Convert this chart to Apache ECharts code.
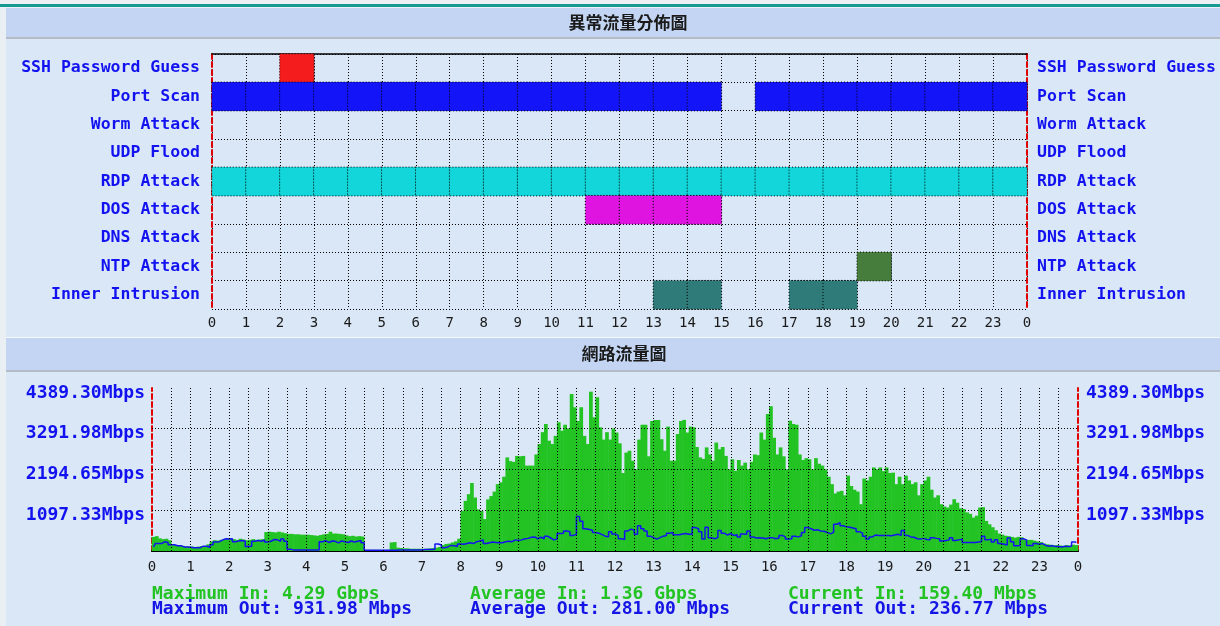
<!DOCTYPE html>
<html>
<head>
<meta charset="utf-8">
<script src="https://cdn.jsdelivr.net/npm/echarts@6/dist/echarts.min.js"></script>
<style>
  html, body { margin: 0; padding: 0; background: #dae7f6; }
  #chart { width: 1220px; height: 626px; }
</style>
</head>
<body>
<div id="chart"></div>
<script>
// 小时刻度
const hourLabels = ['0', '1', '2', '3', '4', '5', '6', '7', '8', '9', '10', '11',
  '12', '13', '14', '15', '16', '17', '18', '19', '20', '21', '22', '23', '0'];

// 异常流量分布
const attackTypes = ['SSH Password Guess', 'Port Scan', 'Worm Attack', 'UDP Flood',
  'RDP Attack', 'DOS Attack', 'DNS Attack', 'NTP Attack', 'Inner Intrusion'];
const attackColors = ['#f41c1c', '#1414f8', '#1414f8', '#1414f8', '#12d6da',
  '#e014e0', '#1414f8', '#467c3c', '#2f7b79'];
const sshHours = [2];
const portScanHours = [0, 1, 2, 3, 4, 5, 6, 7, 8, 9, 10, 11, 12, 13, 14, 16, 17, 18, 19, 20, 21, 22, 23];
const wormHours = [];
const udpHours = [];
const rdpHours = [0, 1, 2, 3, 4, 5, 6, 7, 8, 9, 10, 11, 12, 13, 14, 15, 16, 17, 18, 19, 20, 21, 22, 23];
const dosHours = [11, 12, 13, 14];
const dnsHours = [];
const ntpHours = [19];
const innerHours = [13, 14, 17, 18];
const attackHours = [sshHours, portScanHours, wormHours, udpHours, rdpHours, dosHours, dnsHours, ntpHours, innerHours];

// 网络流量 (Mbps), 每 5 分钟一个点, 每行一小时
const trafficIn = [
  380, 400, 340, 320, 330, 290, 180, 160, 150, 140, 120, 120,
  120, 110, 120, 130, 110, 180, 260, 290, 280, 300, 310, 330,
  330, 320, 300, 330, 310, 290, 300, 320, 300, 310, 320, 510,
  520, 510, 500, 520, 500, 480, 460, 460, 450, 450, 440, 440,
  440, 430, 420, 410, 430, 450, 460, 520, 470, 470, 460, 450,
  420, 400, 410, 390, 400, 390, 30, 30, 30, 30, 30, 30,
  30, 30, 230, 240, 90, 80, 70, 70, 60, 60, 60, 60,
  60, 60, 70, 80, 90, 110, 160, 190, 200, 230, 260, 330,
  1080, 1350, 1530, 1830, 1440, 1120, 1080, 860, 1390, 1480, 1600, 1800,
  1850, 2000, 2520, 2420, 2400, 2560, 2550, 2560, 2300, 2300, 2300, 2600,
  2880, 3200, 3420, 2970, 2880, 3100, 3470, 3240, 3400, 3300, 4230, 3870,
  3500, 3870, 3100, 2880, 4290, 3600, 4140, 3330, 3000, 3200, 3000, 3300,
  3190, 2900, 2100, 2650, 2700, 2430, 2200, 3000, 3400, 3400, 2550, 3500,
  3530, 3530, 3010, 2700, 3350, 2430, 2430, 3150, 3500, 3530, 3190, 3350,
  3330, 2800, 2520, 2480, 2790, 2600, 2430, 2920, 2740, 2800, 2560, 2200,
  2470, 2160, 2450, 2300, 2380, 2200, 2400, 2600, 2580, 3190, 3000, 3690,
  3900, 3050, 2600, 2790, 2550, 2200, 3510, 3420, 3400, 2600, 2450, 2500,
  2470, 2200, 2500, 2350, 2300, 2200, 2000, 1800, 1550, 1600, 1620, 1500,
  2030, 1750, 1650, 1600, 1260, 1950, 1900, 2000, 2250, 2200, 2250, 2150,
  2250, 2100, 2110, 1800, 2000, 1800, 2030, 1900, 1800, 1850, 1500, 1800,
  1900, 2000, 1650, 1440, 1500, 1260, 1200, 1170, 1250, 1395, 1300, 1150,
  1130, 1040, 1000, 900, 950, 1170, 1180, 810, 720, 640, 560, 470,
  440, 410, 400, 380, 360, 380, 370, 310, 300, 300, 280, 260,
  240, 200, 180, 170, 150, 160, 150, 140, 160, 150, 170, 159.4
];
const trafficOut = [
  110, 200, 200, 250, 230, 170, 170, 140, 140, 110, 110, 100,
  90, 90, 90, 130, 130, 100, 170, 240, 250, 300, 330, 320,
  330, 250, 270, 280, 270, 120, 130, 260, 280, 260, 300, 240,
  260, 310, 300, 260, 320, 260, 50, 30, 30, 30, 30, 30,
  30, 30, 30, 30, 250, 280, 230, 270, 260, 220, 270, 250,
  230, 270, 240, 260, 280, 220, 20, 20, 20, 20, 20, 20,
  20, 20, 20, 20, 30, 30, 30, 30, 30, 30, 30, 30,
  40, 40, 40, 50, 190, 160, 90, 110, 150, 140, 120, 190,
  180, 200, 220, 200, 250, 270, 300, 200, 220, 240, 230, 220,
  220, 250, 260, 250, 300, 280, 300, 330, 340, 370, 380, 330,
  370, 330, 400, 350, 300, 320, 470, 480, 540, 520, 420, 450,
  931.98, 800, 600, 580, 560, 500, 480, 440, 400, 380, 520, 460,
  420, 330, 310, 540, 590, 560, 450, 680, 600, 540, 400, 360,
  320, 360, 400, 420, 480, 500, 440, 440, 460, 470, 450, 450,
  630, 600, 520, 320, 640, 360, 330, 360, 550, 480, 430, 470,
  420, 440, 380, 460, 450, 540, 380, 350, 360, 350, 330, 360,
  360, 330, 350, 420, 380, 320, 330, 400, 380, 410, 500, 630,
  600, 560, 570, 540, 530, 500, 460, 500, 720, 760, 680, 650,
  640, 620, 600, 520, 480, 400, 320, 380, 430, 420, 420, 420,
  420, 410, 430, 450, 420, 550, 420, 380, 370, 330, 320, 340,
  310, 300, 360, 340, 330, 270, 280, 300, 360, 280, 300, 320,
  230, 230, 230, 230, 240, 250, 400, 300, 320, 240, 300, 200,
  180, 160, 350, 250, 140, 150, 330, 300, 150, 140, 200, 180,
  200, 150, 130, 140, 120, 120, 110, 130, 120, 130, 240, 236.77
];
const samplesPerHour = 12;
const yMax = 4389.30;
const yStep = 1097.325;
const yTickLabels = ['', '1097.33Mbps', '2194.65Mbps', '3291.98Mbps', '4389.30Mbps'];

const statsIn = ['Maximum In: 4.29 Gbps', 'Average In: 1.36 Gbps', 'Current In: 159.40 Mbps'];
const statsOut = ['Maximum Out: 931.98 Mbps', 'Average Out: 281.00 Mbps', 'Current Out: 236.77 Mbps'];
const statsX = [152, 470, 788];

const MONO = '"DejaVu Sans Mono", "Liberation Mono", monospace';
const CJK = '"Noto Sans CJK TC", "Noto Sans CJK SC", sans-serif';
const dotted = { color: '#000', width: 1, type: [1, 2] };
const redDash = { color: '#e00000', width: 2, type: [5, 3] };

const chart = echarts.init(document.getElementById('chart'));

const heatSeries = attackTypes.map((name, row) => ({
  name: name,
  type: 'heatmap',
  xAxisIndex: 0,
  yAxisIndex: 0,
  data: attackHours[row].map(h => [h, row, 1]),
  itemStyle: { color: attackColors[row], borderColor: '#000', borderWidth: 1, borderType: [1, 2] },
  emphasis: { disabled: true }
}));

// 每个采样点放在 5 分钟区间中点
const inPoints = trafficIn.map((v, i) => [(i + 0.5) / samplesPerHour, v]);
const outPoints = trafficOut.map((v, i) => [(i + 0.5) / samplesPerHour, v]);

// 网格虚线用 markLine 画在柱子上面
const gridMarks = [];
for (let h = 0.5; h < 24; h += 0.5) gridMarks.push({ xAxis: h });
for (let k = 1; k < yTickLabels.length - 1; k++) gridMarks.push({ yAxis: k * yStep });

const option = {
  animation: false,
  backgroundColor: '#dae7f6',
  grid: [
    { left: 212, top: 54, width: 815, height: 255 },
    { left: 152, top: 388, width: 926, height: 163 }
  ],
  xAxis: [
    {
      gridIndex: 0, type: 'category', position: 'top',
      data: hourLabels.slice(0, 24),
      axisLine: { show: true, lineStyle: { color: '#000', width: 1.5 } },
      axisTick: { show: false }, axisLabel: { show: false }, splitLine: { show: false }
    },
    {
      gridIndex: 0, type: 'value', position: 'bottom', min: 0, max: 24, interval: 1,
      axisLine: { lineStyle: { color: '#000', width: 2 } },
      axisTick: { show: false },
      axisLabel: {
        formatter: v => hourLabels[v], color: '#1a1a1a', fontFamily: MONO, fontSize: 14, margin: 7,
        showMinLabel: true, showMaxLabel: true
      },
      splitLine: { show: true, lineStyle: dotted }
    },
    {
      gridIndex: 1, type: 'category', position: 'top',
      data: hourLabels.slice(0, 24),
      axisLine: { show: true, lineStyle: { color: '#000', width: 1.5 } },
      axisTick: { show: false }, axisLabel: { show: false }, splitLine: { show: false }
    },
    {
      gridIndex: 1, type: 'value', position: 'bottom', min: 0, max: 24, interval: 0.5,
      axisLine: { lineStyle: { color: '#000', width: 2 } },
      axisTick: { show: false },
      axisLabel: {
        formatter: v => (Number.isInteger(v) ? hourLabels[v] : ''),
        color: '#1a1a1a', fontFamily: MONO, fontSize: 14, margin: 9,
        showMinLabel: true, showMaxLabel: true
      },
      splitLine: { show: false }
    }
  ],
  yAxis: [
    {
      gridIndex: 0, type: 'category', position: 'left', inverse: true,
      data: attackTypes,
      axisLine: { show: true, lineStyle: redDash },
      axisTick: { show: false },
      axisLabel: { color: '#1212f0', fontFamily: MONO, fontWeight: 'bold', fontSize: 16.5, margin: 12 },
      splitLine: { show: true, interval: 0, lineStyle: dotted }
    },
    {
      gridIndex: 0, type: 'category', position: 'right', inverse: true,
      data: attackTypes,
      axisLine: { show: true, lineStyle: redDash },
      axisTick: { show: false },
      axisLabel: { color: '#1212f0', fontFamily: MONO, fontWeight: 'bold', fontSize: 16.5, margin: 10 },
      splitLine: { show: false }
    },
    {
      gridIndex: 1, type: 'value', position: 'left', min: 0, max: yMax, interval: yStep,
      axisLine: { show: true, lineStyle: redDash },
      axisTick: { show: false },
      axisLabel: {
        formatter: v => yTickLabels[Math.round(v / yStep)],
        color: '#1212f0', fontFamily: MONO, fontWeight: 'bold', fontSize: 18, margin: 7,
        verticalAlign: 'top', lineHeight: 10
      },
      splitLine: { show: false }
    },
    {
      gridIndex: 1, type: 'value', position: 'right', min: 0, max: yMax, interval: yStep,
      axisLine: { show: true, lineStyle: redDash },
      axisTick: { show: false },
      axisLabel: {
        formatter: v => yTickLabels[Math.round(v / yStep)],
        color: '#1212f0', fontFamily: MONO, fontWeight: 'bold', fontSize: 18, margin: 8,
        verticalAlign: 'top', lineHeight: 10
      },
      splitLine: { show: false }
    }
  ],
  series: heatSeries.concat([
    {
      name: 'In',
      type: 'bar',
      xAxisIndex: 3, yAxisIndex: 2,
      data: inPoints,
      barWidth: 3.7,
      itemStyle: { color: '#22c322' },
      emphasis: { disabled: true },
      markLine: {
        silent: true,
        symbol: 'none',
        label: { show: false },
        lineStyle: dotted,
        emphasis: { disabled: true },
        data: gridMarks
      }
    },
    {
      name: 'Out',
      type: 'line',
      xAxisIndex: 3, yAxisIndex: 2,
      data: outPoints,
      step: 'middle',
      showSymbol: false,
      lineStyle: { color: '#1414f0', width: 1.5 },
      emphasis: { disabled: true },
      z: 3
    }
  ]),
  graphic: [
    { type: 'rect', shape: { x: 0, y: 0, width: 6, height: 626 }, style: { fill: '#eaeff3' }, z: -1 },
    { type: 'rect', shape: { x: 0, y: 0, width: 1220, height: 8 }, style: { fill: '#eef1f3' }, z: -1 },
    { type: 'rect', shape: { x: 0, y: 4, width: 1220, height: 3 }, style: { fill: '#169a92' } },
    { type: 'rect', shape: { x: 6, y: 8, width: 1214, height: 29 }, style: { fill: '#c3d5f2' } },
    { type: 'rect', shape: { x: 6, y: 37, width: 1214, height: 2 }, style: { fill: '#b4bcc6' } },
    { type: 'rect', shape: { x: 6, y: 337, width: 1214, height: 1 }, style: { fill: '#f4f8fc' } },
    { type: 'rect', shape: { x: 6, y: 338, width: 1214, height: 32 }, style: { fill: '#c3d5f2' } },
    { type: 'rect', shape: { x: 6, y: 370, width: 1214, height: 2 }, style: { fill: '#b4bcc6' } },
    {
      type: 'text', x: 628, y: 23,
      style: { text: '異常流量分佈圖', fill: '#1a1a1a', fontFamily: CJK, fontWeight: 'bold', fontSize: 17, align: 'center', verticalAlign: 'middle' }
    },
    {
      type: 'text', x: 624, y: 354,
      style: { text: '網路流量圖', fill: '#1a1a1a', fontFamily: CJK, fontWeight: 'bold', fontSize: 17, align: 'center', verticalAlign: 'middle' }
    }
  ].concat(statsIn.map((t, i) => ({
    type: 'text', x: statsX[i], y: 594,
    style: { text: t, fill: '#22c322', fontFamily: MONO, fontWeight: 'bold', fontSize: 18, verticalAlign: 'middle' }
  }))).concat(statsOut.map((t, i) => ({
    type: 'text', x: statsX[i], y: 609,
    style: { text: t, fill: '#1414e6', fontFamily: MONO, fontWeight: 'bold', fontSize: 18, verticalAlign: 'middle' }
  })))
};

chart.setOption(option);
</script>
</body>
</html>
